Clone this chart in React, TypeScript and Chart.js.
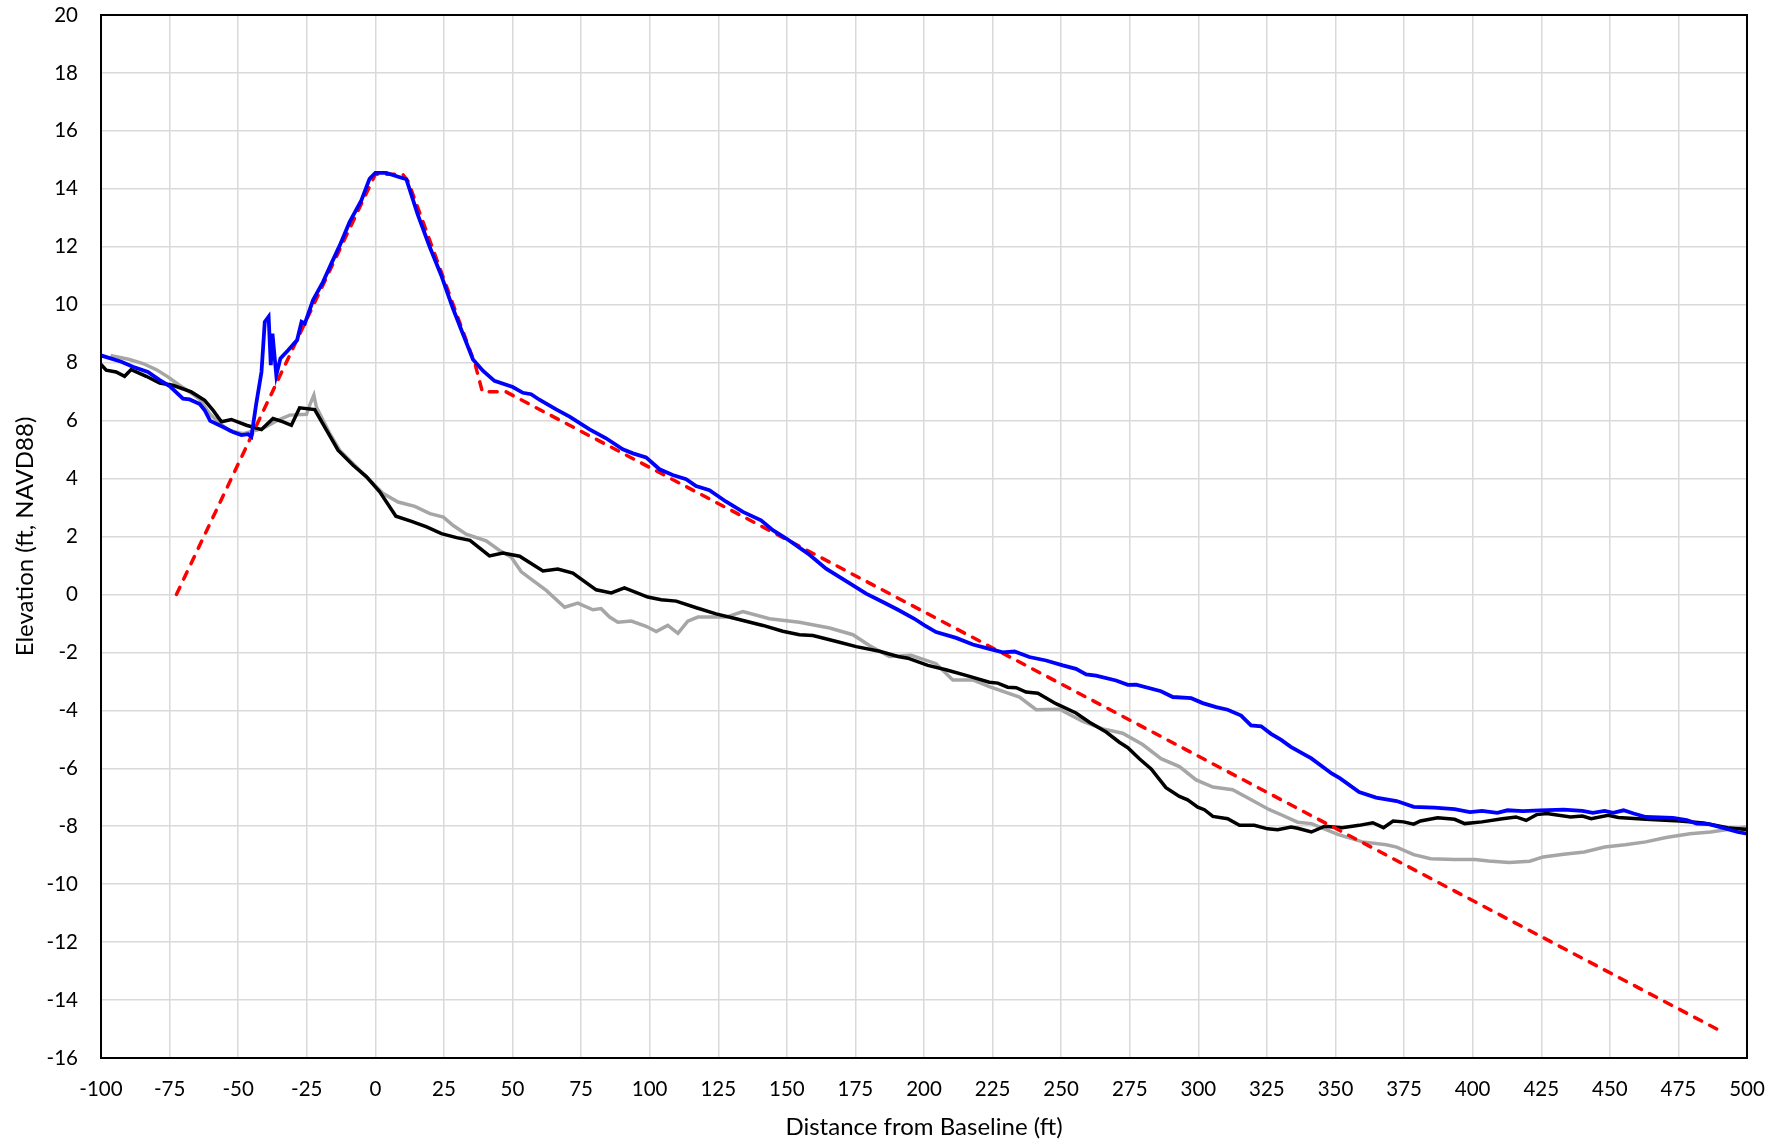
import React, { useEffect, useRef } from "react";
import { Chart, registerables } from "chart.js";

Chart.register(...registerables);

const xTickValues = [-100, -75, -50, -25, 0, 25, 50, 75, 100, 125, 150, 175, 200, 225, 250, 275, 300, 325, 350, 375, 400, 425, 450, 475, 500];
const yTickValues = [-16, -14, -12, -10, -8, -6, -4, -2, 0, 2, 4, 6, 8, 10, 12, 14, 16, 18, 20];

const xAxisTitle = "Distance from Baseline (ft)";
const yAxisTitle = "Elevation (ft, NAVD88)";

// Blue survey profile
const blueX = [-100, -92.6, -88.4, -82.9, -78.6, -75, -70.1, -67.7, -64, -62.2, -60.2, -55.5, -51.9, -48.8, -46.4, -45.2, -43.4, -41.5, -40.3, -38.9, -38.1, -37.5, -36.1, -34.6, -31.8, -28.5, -26.9, -25.7, -22.7, -19.1, -16.1, -13, -9.4, -5.1, -2.1, 0, 4, 8.9, 11.3, 15.5, 19.8, 24, 28.3, 31.9, 35.6, 39.2, 43.4, 50.1, 53.8, 56.8, 59.8, 65.9, 70.8, 78.1, 84.1, 90.2, 93.9, 98.7, 103.6, 108.4, 113.3, 116.9, 121.8, 127.9, 134, 140.6, 144.9, 149.8, 157.7, 164.3, 172.8, 178.9, 185, 190.5, 196.5, 200.2, 204.4, 211.7, 217.8, 223.8, 228.7, 233, 238.4, 244.5, 250.6, 255.4, 259.1, 262.7, 270, 274.3, 277.3, 286.4, 290.7, 297.4, 301.6, 306.5, 310.7, 315.6, 319.2, 322.9, 326.5, 330.2, 333.7, 341.2, 348.6, 351.7, 358.6, 364.8, 372.3, 378.5, 386, 393.4, 399, 403.4, 409, 412.7, 418.3, 424.5, 433.2, 440, 443.8, 448.1, 451.2, 455, 458.7, 463.1, 473, 478, 481.7, 486.1, 491, 496.6, 500];
const blueY = [8.25, 8.03, 7.86, 7.68, 7.4, 7.19, 6.76, 6.73, 6.57, 6.36, 5.99, 5.78, 5.61, 5.5, 5.53, 5.44, 6.59, 7.68, 9.41, 9.59, 7.91, 9.0, 7.57, 8.15, 8.43, 8.78, 9.41, 9.35, 10.16, 10.78, 11.41, 12.04, 12.85, 13.6, 14.35, 14.55, 14.55, 14.4, 14.33, 13.1, 12.0, 11.02, 9.87, 9.0, 8.11, 7.72, 7.37, 7.16, 6.96, 6.91, 6.72, 6.39, 6.14, 5.7, 5.39, 5.01, 4.87, 4.73, 4.32, 4.12, 3.98, 3.74, 3.6, 3.2, 2.85, 2.56, 2.22, 1.93, 1.41, 0.89, 0.39, 0.03, -0.26, -0.53, -0.84, -1.07, -1.3, -1.5, -1.73, -1.88, -2.0, -1.97, -2.16, -2.28, -2.45, -2.57, -2.76, -2.8, -2.97, -3.12, -3.11, -3.34, -3.54, -3.58, -3.75, -3.89, -3.98, -4.18, -4.52, -4.55, -4.81, -5.02, -5.26, -5.66, -6.18, -6.35, -6.82, -7.01, -7.13, -7.33, -7.36, -7.41, -7.51, -7.47, -7.54, -7.45, -7.48, -7.45, -7.43, -7.47, -7.54, -7.47, -7.54, -7.45, -7.56, -7.68, -7.71, -7.79, -7.91, -7.93, -8.05, -8.2, -8.26];

// Red dashed design template
const redX = [-72.5, 0, 10, 12, 36.5, 39, 47.5, 490];
const redY = [0, 14.5, 14.5, 14.25, 7.9, 7.0, 7.0, -15.05];

// Black survey profile
const blackX = [-100, -98.1, -94.5, -91.4, -89, -83.5, -78.6, -73.8, -67.1, -62.2, -59.2, -56.1, -52.5, -47, -41.5, -37.3, -33.6, -30.6, -27.6, -22.1, -17.8, -13.6, -8.1, -3.2, 1.6, 7.5, 13.2, 18.7, 24.1, 29.6, 34.5, 41.6, 46.5, 52.6, 61.1, 66.5, 72, 80.5, 86, 90.8, 99.3, 104.2, 109.7, 117, 124.2, 131.5, 141.3, 148.5, 154.6, 159.5, 169.2, 175.3, 183.8, 190.5, 194.1, 201.4, 208, 216.6, 223.8, 226.9, 230.5, 233.6, 237.2, 241.5, 248.1, 255.4, 260.3, 266.4, 271.2, 274.3, 278.5, 282.8, 288.2, 293.1, 296.1, 299.8, 302.2, 305.3, 310.7, 315, 320.4, 325.3, 328.9, 333.8, 336.2, 341.2, 346.1, 352.4, 358.6, 363.6, 367.5, 371, 374.8, 378.5, 381, 387.2, 393.4, 397.1, 403.4, 410.8, 415.8, 419.5, 423.3, 427, 435.7, 440, 443.2, 449.4, 453.1, 463.1, 475.5, 484.2, 492.9, 500];
const blackY = [7.94, 7.74, 7.68, 7.53, 7.76, 7.53, 7.3, 7.22, 6.99, 6.7, 6.36, 5.96, 6.04, 5.84, 5.69, 6.07, 5.96, 5.84, 6.44, 6.38, 5.67, 4.98, 4.46, 4.06, 3.54, 2.7, 2.52, 2.33, 2.1, 1.96, 1.87, 1.33, 1.43, 1.32, 0.81, 0.88, 0.74, 0.16, 0.05, 0.23, -0.09, -0.18, -0.23, -0.46, -0.67, -0.84, -1.07, -1.27, -1.39, -1.42, -1.65, -1.8, -1.96, -2.14, -2.2, -2.45, -2.6, -2.83, -3.03, -3.06, -3.2, -3.22, -3.37, -3.41, -3.77, -4.09, -4.41, -4.75, -5.1, -5.29, -5.67, -6.02, -6.67, -6.97, -7.09, -7.34, -7.43, -7.66, -7.74, -7.97, -7.97, -8.09, -8.12, -8.03, -8.07, -8.2, -8.0, -8.05, -7.97, -7.88, -8.05, -7.82, -7.85, -7.93, -7.82, -7.71, -7.76, -7.91, -7.85, -7.74, -7.68, -7.8, -7.6, -7.56, -7.68, -7.65, -7.74, -7.62, -7.7, -7.76, -7.82, -7.89, -8.05, -8.11];

// Grey survey profile
const greyX = [-96.5, -95.7, -89.6, -84.7, -79.9, -75.6, -71.4, -67.7, -64, -60.4, -56.7, -53.1, -48.2, -40.9, -36.1, -31.2, -25.1, -23.7, -22.4, -21.5, -16.6, -13, -6.9, -2, 2.9, 8.3, 14.4, 19.9, 24.8, 28.4, 33.1, 40.4, 45.3, 49.5, 53.2, 62.3, 69, 73.8, 79.3, 82.3, 85.4, 88.4, 93.3, 98.7, 102.4, 106.6, 110.3, 113.9, 117.6, 127.9, 134, 143.7, 154.6, 165.6, 174.1, 180.1, 187.4, 195.3, 204.4, 210.5, 217.8, 223.8, 234.8, 240.9, 249.4, 257.9, 265.2, 272.4, 279.7, 286.4, 293.1, 299.2, 305.3, 312.5, 318.6, 325.9, 330.8, 336.2, 341.2, 351.1, 359.8, 368.5, 372.3, 378.5, 384.7, 393.4, 400.9, 405.8, 413.3, 420.8, 425.7, 433.2, 440.7, 448.1, 455.6, 463.1, 470.5, 479.2, 486.7, 492.9, 500];
const greyY = [8.25, 8.23, 8.11, 7.97, 7.76, 7.51, 7.22, 6.99, 6.73, 6.24, 5.9, 5.65, 5.55, 5.73, 5.99, 6.19, 6.22, 6.59, 6.88, 6.47, 5.55, 4.98, 4.4, 3.94, 3.48, 3.19, 3.04, 2.79, 2.67, 2.38, 2.08, 1.85, 1.52, 1.29, 0.78, 0.14, -0.44, -0.3, -0.53, -0.49, -0.78, -0.96, -0.92, -1.1, -1.28, -1.07, -1.34, -0.92, -0.78, -0.78, -0.59, -0.84, -0.96, -1.16, -1.39, -1.76, -2.14, -2.1, -2.39, -2.95, -2.95, -3.18, -3.54, -3.98, -3.96, -4.38, -4.64, -4.79, -5.18, -5.67, -5.94, -6.4, -6.65, -6.74, -7.05, -7.43, -7.63, -7.86, -7.91, -8.29, -8.54, -8.64, -8.72, -8.98, -9.12, -9.15, -9.15, -9.2, -9.25, -9.21, -9.06, -8.97, -8.89, -8.72, -8.64, -8.54, -8.39, -8.26, -8.2, -8.11, -8.03];

function pts(xs: number[], ys: number[]) {
  return xs.map((x, i) => ({ x, y: ys[i] }));
}

const FONT = "Lato, 'Open Sans', sans-serif";

const borderPlugin = {
  id: "plotBorder",
  afterDatasetsDraw(chart: any) {
    const { ctx, chartArea: a } = chart;
    ctx.save();
    ctx.strokeStyle = "#000";
    ctx.lineWidth = 2;
    ctx.strokeRect(a.left, a.top, a.right - a.left, a.bottom - a.top);
    ctx.restore();
  },
};

export default function App() {
  const ref = useRef<HTMLCanvasElement | null>(null);

  useEffect(() => {
    document.body.style.margin = "0";
    const canvas = ref.current;
    if (!canvas) return;
    const chart = new Chart(canvas, {
      type: "scatter",
      data: {
        datasets: [
          {
            label: "Blue",
            data: pts(blueX, blueY),
            showLine: true,
            borderColor: "#0000FF",
            borderWidth: 3.8,
            pointRadius: 0,
            fill: false,
            tension: 0,
          },
          {
            label: "Template",
            data: pts(redX, redY),
            showLine: true,
            borderColor: "#FF0000",
            borderWidth: 3.5,
            borderDash: [8, 9],
            borderCapStyle: "round",
            pointRadius: 0,
            fill: false,
            tension: 0,
          },
          {
            label: "Black",
            data: pts(blackX, blackY),
            showLine: true,
            borderColor: "#000000",
            borderWidth: 3.5,
            pointRadius: 0,
            fill: false,
            tension: 0,
          },
          {
            label: "Grey",
            data: pts(greyX, greyY),
            showLine: true,
            borderColor: "#A6A6A6",
            borderWidth: 3.5,
            pointRadius: 0,
            fill: false,
            tension: 0,
          },
        ],
      },
      options: {
        responsive: false,
        animation: false,
        devicePixelRatio: 1,
        layout: { padding: { left: 0, top: 15, right: 38, bottom: 0 } },
        plugins: {
          legend: { display: false },
          tooltip: { enabled: false },
        },
        scales: {
          x: {
            type: "linear",
            min: -100,
            max: 500,
            afterBuildTicks: (s: any) => {
              s.ticks = xTickValues.map((v) => ({ value: v }));
            },
            afterFit: (s: any) => {
              s.height = 88;
              s.paddingLeft = 0;
              s.paddingRight = 0;
            },
            grid: { color: "#D9D9D9", lineWidth: 1.5, drawTicks: false },
            border: { display: false },
            ticks: {
              color: "#000",
              padding: 19,
              maxRotation: 0,
              autoSkip: false,
              font: { family: FONT, size: 20.5 },
              callback: (v: any) => String(v),
            },
            title: {
              display: true,
              text: xAxisTitle,
              color: "#000",
              font: { family: FONT, size: 24 },
              padding: { top: 0, bottom: 4 },
            },
          },
          y: {
            type: "linear",
            min: -16,
            max: 20,
            afterBuildTicks: (s: any) => {
              s.ticks = yTickValues.map((v) => ({ value: v }));
            },
            afterFit: (s: any) => {
              s.width = 101;
              s.paddingTop = 0;
              s.paddingBottom = 0;
            },
            grid: { color: "#D9D9D9", lineWidth: 1.5, drawTicks: false },
            border: { display: false },
            ticks: {
              color: "#000",
              padding: 23,
              autoSkip: false,
              font: { family: FONT, size: 20.5 },
              callback: (v: any) => String(v),
            },
            title: {
              display: true,
              text: yAxisTitle,
              color: "#000",
              font: { family: FONT, size: 24 },
              padding: { top: 11, bottom: 0 },
            },
          },
        },
      },
      plugins: [borderPlugin],
    });
    return () => chart.destroy();
  }, []);

  return (
    <div style={{ position: "absolute", left: 0, top: 0, width: 1785, height: 1146, background: "#fff" }}>
      <canvas ref={ref} width={1785} height={1146} style={{ display: "block", width: 1785, height: 1146 }} />
    </div>
  );
}
